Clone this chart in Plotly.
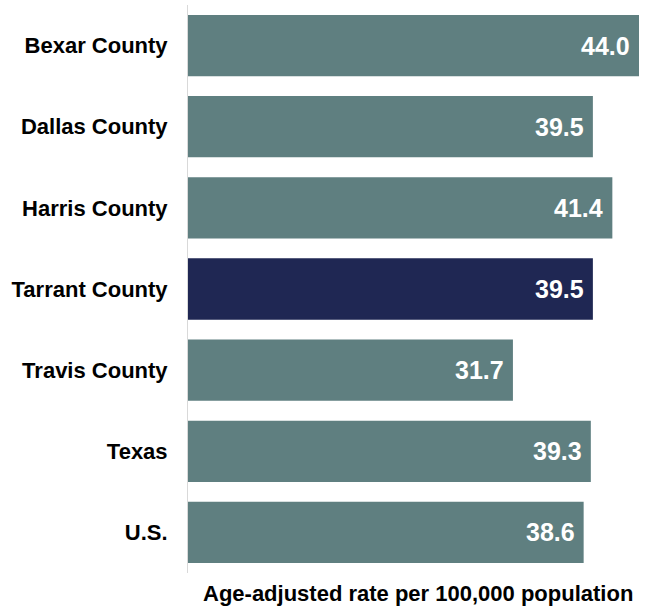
import plotly.graph_objects as go

categories = ["Bexar County", "Dallas County", "Harris County", "Tarrant County",
              "Travis County", "Texas", "U.S."]
values = [44.0, 39.5, 41.4, 39.5, 31.7, 39.3, 38.6]
highlight = "Tarrant County"
x_title = "Age-adjusted rate per 100,000 population"

base_color = "#5F7F80"
hl_color = "#1F2753"
colors = [hl_color if c == highlight else base_color for c in categories]

fig = go.Figure(go.Bar(
    y=categories,
    x=values,
    orientation="h",
    marker=dict(color=colors, line=dict(width=0)),
    hoverinfo="x+y",
))

for c, v in zip(categories, values):
    fig.add_annotation(
        x=v, y=c, xref="x", yref="y",
        text=f"<b>{v:.1f}</b>",
        showarrow=False,
        xanchor="right", yanchor="middle",
        xshift=-7,
        font=dict(color="white", size=25, family="Arial, Liberation Sans"),
    )

fig.add_annotation(
    x=0.509, y=0, xref="paper", yref="paper",
    text=f"<b>{x_title}</b>",
    showarrow=False,
    xanchor="center", yanchor="middle",
    yshift=-20,
    font=dict(color="black", size=22, family="Arial, Liberation Sans"),
)

fig.update_layout(
    width=647, height=606,
    margin=dict(l=188, r=8, t=5, b=33),
    plot_bgcolor="white",
    paper_bgcolor="white",
    bargap=0.245,
    showlegend=False,
    font=dict(family="Arial, Liberation Sans", color="black"),
)
fig.update_xaxes(
    range=[0, 44],
    automargin=False,
    showticklabels=False,
    showgrid=False,
    zeroline=False,
    ticks="",
)
fig.update_yaxes(
    autorange="reversed",
    automargin=False,
    showgrid=False,
    zeroline=False,
    showline=True,
    linecolor="#D9D9D9",
    linewidth=1,
    ticks="outside",
    ticklen=15,
    tickcolor="rgba(0,0,0,0)",
    tickfont=dict(size=22, weight="bold", color="black"),
)

fig.write_html("out.html", config={"displayModeBar": False},
               post_script="document.body.style.margin='0';")
